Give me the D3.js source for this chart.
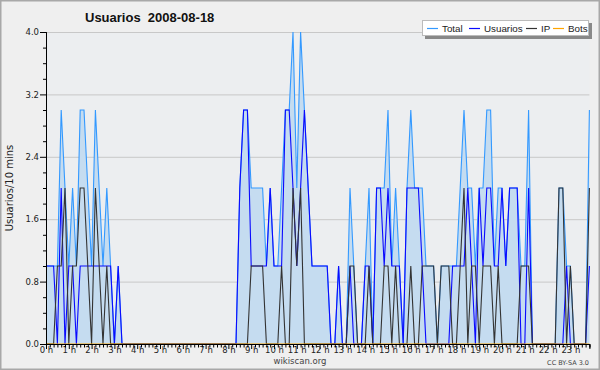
<!DOCTYPE html>
<html>
<head>
<meta charset="utf-8">
<script src="https://cdn.jsdelivr.net/npm/d3@7"></script>
<style>
  body { margin: 0; background: #fff; }
  svg { display: block; font-family: "DejaVu Sans", sans-serif; }
</style>
</head>
<body>
<div id="chart"></div>
<script>
// 10-minute slots, 0..143 (one day)
const total = [
  1,1,1,1,3,2,1,2,1,3,3,2,1,3,2,1,2,1,0,1,0,0,
  0,0,0,0,0,0,0,0,0,0,0,0,0,0,0,0,0,0,0,0,0,0,0,0,0,0,0,0,
  0,2,3,3,2,2,2,2,1,2,1,1,2,3,3,4,2,4,3,2,1,1,1,1,1,0,0,
  1,0,0,2,1,0,0,1,2,0,2,2,2,3,1,2,1,0,2,3,2,2,2,1,1,1,0,1,1,1,
  1,1,2,3,2,2,1,2,2,3,3,1,2,2,1,2,2,2,1,1,3,0,0,0,0,0,0,0,2,2,1,1,0,0,0,0,3
];
const usuarios = [
  1,1,1,0,2,0,1,1,0,1,1,1,1,1,1,1,1,1,0,1,0,0,
  0,0,0,0,0,0,0,0,0,0,0,0,0,0,0,0,0,0,0,0,0,0,0,0,0,0,0,0,
  0,2,3,3,1,1,1,1,1,2,1,1,1,3,3,2,1,2,3,2,1,1,1,1,1,0,0,
  1,0,0,1,0,0,0,1,1,0,2,2,1,2,1,1,1,0,2,2,2,2,1,0,0,0,0,0,0,0,
  1,1,1,1,2,1,0,2,1,2,2,1,1,2,1,2,2,2,0,0,2,0,0,0,0,0,0,0,0,0,1,0,0,0,0,0,1
];
const ip = [
  0,0,0,1,1,2,0,1,1,2,2,1,0,2,1,0,1,0,0,0,0,0,
  0,0,0,0,0,0,0,0,0,0,0,0,0,0,0,0,0,0,0,0,0,0,0,0,0,0,0,0,
  0,0,0,0,1,1,1,1,0,0,0,0,1,0,0,2,1,2,0,0,0,0,0,0,0,0,0,
  0,0,0,1,1,0,0,0,1,0,0,0,1,1,0,1,0,0,0,1,0,0,1,1,1,1,0,1,1,1,
  0,0,1,2,0,1,1,0,1,1,1,0,1,0,0,0,0,0,1,1,1,0,0,0,0,0,0,0,2,2,0,1,0,0,0,0,2
];
const bots = [
  0,0,0,0,0,0,0,0,0,0,0,0,0,0,0,0,0,0,0,0,0,0,0,0,
  0,0,0,0,0,0,0,0,0,0,0,0,0,0,0,0,0,0,0,0,0,0,0,0,
  0,0,0,0,0,0,0,0,0,0,0,0,0,0,0,0,0,0,0,0,0,0,0,0,
  0,0,0,0,0,0,0,0,0,0,0,0,0,0,0,0,0,0,0,0,0,0,0,0,
  0,0,0,0,0,0,0,0,0,0,0,0,0,0,0,0,0,0,0,0,0,0,0,0,
  0,0,0,0,0,0,0,0,0,0,0,0,0,0,0,0,0,0,0,0,0,0,0,0
];
const hourLabels = ["0 h","1 h","2 h","3 h","4 h","5 h","6 h","7 h","8 h","9 h","10 h","11 h",
  "12 h","13 h","14 h","15 h","16 h","17 h","18 h","19 h","20 h","21 h","22 h","23 h"];
const yTicks = [0, 0.8, 1.6, 2.4, 3.2, 4.0];
const yMinor = [0.2,0.4,0.6,1.0,1.2,1.4,1.8,2.0,2.2,2.6,2.8,3.0,3.4,3.6,3.8];

const series = [
  { name: "Total", values: total, color: "#3399ff" },
  { name: "Usuarios", values: usuarios, color: "#0a0aff" },
  { name: "IP", values: ip, color: "#333333" },
  { name: "Bots", values: bots, color: "#ffa500" }
];

const W = 600, H = 370;
const plot = { left: 46, right: 589.4, top: 32, bottom: 344 };

const svg = d3.select("#chart").append("svg")
  .attr("width", W).attr("height", H);

svg.append("rect")
  .attr("x", 0.75).attr("y", 0.75)
  .attr("width", W - 1.5).attr("height", H - 1.5)
  .attr("fill", "#efefef").attr("stroke", "#a8a8a8").attr("stroke-width", 1.5);

svg.append("rect")
  .attr("x", plot.left).attr("y", plot.top)
  .attr("width", plot.right - plot.left).attr("height", plot.bottom - plot.top)
  .attr("fill", "#eceef0");

const x = d3.scaleLinear().domain([0, 143]).range([plot.left, plot.right]);
const y = d3.scaleLinear().domain([0, 4]).range([plot.bottom, plot.top]);

// grid
svg.append("g").selectAll("line")
  .data(yTicks.filter(d => d > 0))
  .join("line")
  .attr("x1", plot.left).attr("x2", plot.right)
  .attr("y1", d => y(d) + 0.5).attr("y2", d => y(d) + 0.5)
  .attr("stroke", "#c8c8c8").attr("stroke-width", 1);

// area under total
const area = d3.area()
  .x((d, i) => x(i))
  .y0(y(0))
  .y1(d => y(d));

svg.append("path")
  .datum(total)
  .attr("d", area)
  .attr("fill", "#c5dcf0");

const line = d3.line()
  .x((d, i) => x(i))
  .y(d => y(d));

svg.append("g").selectAll("path")
  .data(series)
  .join("path")
  .attr("d", d => line(d.values))
  .attr("fill", "none")
  .attr("stroke", d => d.color)
  .attr("stroke-width", 1.1)
  .attr("stroke-linejoin", "miter");

// axes
const yAxis = d3.axisLeft(y).tickValues(yTicks).tickFormat(d3.format(".1f")).tickSize(6).tickPadding(1);
const yAxisMinor = d3.axisLeft(y).tickValues(yMinor).tickFormat("").tickSize(3);

svg.append("g").attr("transform", `translate(${plot.left},0)`).call(yAxis);
svg.append("g").attr("transform", `translate(${plot.left},0)`).call(yAxisMinor);

const hourTicks = d3.range(0, 144, 6);
const minorTicks = d3.range(0, 144).filter(d => d % 6 !== 0);
const xAxis = d3.axisBottom(x).tickValues(hourTicks).tickFormat((d, i) => hourLabels[i]).tickSize(5);
const xAxisMinor = d3.axisBottom(x).tickValues(minorTicks).tickFormat("").tickSize(3.5);

svg.append("g").attr("transform", `translate(0,${plot.bottom})`).call(xAxis)
  .call(g => g.selectAll("text").attr("y", 3));
svg.append("g").attr("transform", `translate(0,${plot.bottom})`).call(xAxisMinor);

svg.selectAll(".domain").attr("stroke", "#000");
svg.selectAll(".tick line").attr("stroke", "#000");
svg.selectAll(".tick text")
  .attr("fill", "#222")
  .style("font-size", "8.5px")
  .style("font-family", "'DejaVu Sans', sans-serif");

// titles
svg.append("text")
  .attr("x", 85).attr("y", 22)
  .style("font-size", "13px").style("font-weight", "bold")
  .style("white-space", "pre")
  .style("font-family", "'Liberation Sans', Arial, sans-serif")
  .attr("fill", "#111")
  .text("Usuarios  2008-08-18");

svg.append("text")
  .attr("transform", `translate(13,${(plot.top + plot.bottom) / 2}) rotate(-90)`)
  .attr("text-anchor", "middle")
  .style("font-size", "10px")
  .attr("fill", "#222")
  .text("Usuarios/10 mins");

svg.append("text")
  .attr("x", 300).attr("y", 364)
  .attr("text-anchor", "middle")
  .style("font-size", "8.5px")
  .attr("fill", "#444")
  .text("wikiscan.org");

svg.append("text")
  .attr("x", 589).attr("y", 365)
  .attr("text-anchor", "end")
  .style("font-size", "6.5px")
  .attr("fill", "#444")
  .text("CC BY-SA 3.0");

// legend
const lg = svg.append("g").attr("transform", "translate(422,20)");
lg.append("rect").attr("x", 3).attr("y", 3).attr("width", 167).attr("height", 16).attr("fill", "#888");
lg.append("rect").attr("x", 0.5).attr("y", 0.5).attr("width", 166).attr("height", 15)
  .attr("fill", "#fff").attr("stroke", "#bbb");

const legendX = [5, 47, 104, 131];
series.forEach((s, i) => {
  const gi = lg.append("g").attr("transform", `translate(${legendX[i]},8.5)`);
  gi.append("line").attr("x1", 0).attr("x2", 11).attr("stroke", s.color).attr("stroke-width", 1.2);
  gi.append("text").attr("x", 15).attr("y", 3.5)
    .style("font-size", "9.8px")
    .style("font-family", "'Liberation Sans', Arial, sans-serif")
    .attr("fill", "#222")
    .text(s.name);
});
</script>
</body>
</html>
